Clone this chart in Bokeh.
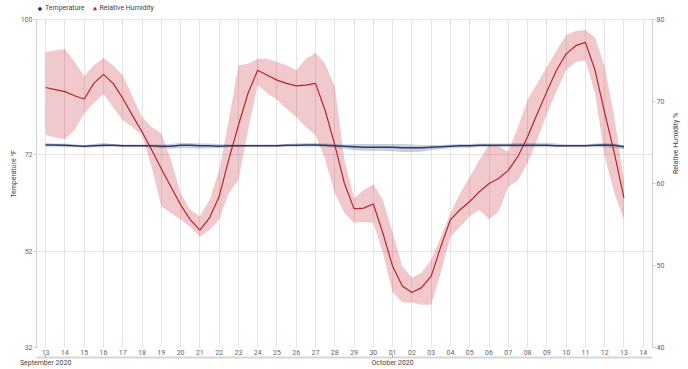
import math
import pandas as pd
from datetime import datetime
from bokeh.plotting import figure
from bokeh.models import (Range1d, LinearAxis, DatetimeAxis, FixedTicker, DaysTicker,
                          DatetimeTickFormatter, Legend, LegendItem, BoxAnnotation)
from bokeh.embed import file_html
from bokeh.resources import INLINE

# ---- data (12-hourly readings, Sep 13 2020 -> Oct 13 2020) ----
times = pd.date_range("2020-09-13", "2020-10-13", freq="12h")

humidity = [71.7, 71.45, 71.2, 70.7, 70.3, 72.2, 73.3, 72.2, 70.4, 68.3,
            66.3, 64.1, 61.8, 59.6, 57.4, 55.6, 54.3, 55.8, 58.4, 62.9,
            67.1, 71.0, 73.8, 73.2, 72.6, 72.2, 71.9, 72.0, 72.2, 68.9,
            64.7, 60.0, 56.9, 57.0, 57.5, 53.9, 49.9, 47.5, 46.7, 47.3,
            48.7, 52.3, 55.6, 56.8, 57.8, 59.0, 60.0, 60.6, 61.6, 63.3,
            65.7, 68.5, 71.2, 73.8, 75.8, 76.8, 77.2, 73.8, 68.6, 63.7,
            58.2]
humidity_hi = [76.0, 76.2, 76.4, 74.8, 73.1, 74.4, 75.3, 74.4, 73.2, 70.6,
               68.1, 66.9, 66.1, 62.9, 58.8, 56.8, 56.0, 58.0, 61.6, 67.7,
               74.4, 74.6, 75.2, 75.2, 74.8, 74.4, 73.8, 75.2, 75.9, 74.6,
               71.8, 62.9, 58.2, 59.2, 59.9, 58.0, 54.0, 49.9, 48.5, 49.1,
               50.7, 53.5, 56.4, 58.8, 60.8, 62.9, 64.7, 64.5, 63.9, 66.9,
               70.2, 72.2, 74.2, 76.2, 78.1, 78.6, 78.7, 77.8, 74.2, 68.1,
               60.4]
humidity_lo = [65.9, 65.6, 65.4, 66.5, 68.5, 69.8, 70.9, 69.3, 67.7, 66.9,
               65.9, 62.0, 57.2, 56.4, 55.6, 54.7, 53.5, 54.3, 55.6, 58.8,
               60.4, 66.5, 72.0, 71.0, 70.2, 69.1, 68.1, 66.9, 65.9, 62.9,
               58.8, 56.4, 55.2, 55.3, 55.2, 51.5, 46.7, 45.5, 45.5, 45.2,
               45.2, 49.1, 53.5, 54.7, 56.0, 56.8, 55.6, 56.6, 59.6, 60.4,
               62.5, 65.3, 68.5, 71.2, 73.8, 74.8, 75.0, 71.0, 63.3, 58.8,
               55.6]
temperature = [74.0, 74.0, 73.9, 73.8, 73.7, 73.8, 73.9, 73.9, 73.8, 73.8,
               73.8, 73.8, 73.7, 73.7, 73.9, 73.9, 73.8, 73.8, 73.7, 73.8,
               73.8, 73.8, 73.8, 73.8, 73.8, 73.9, 73.9, 74.0, 74.0, 73.9,
               73.8, 73.7, 73.6, 73.5, 73.5, 73.5, 73.5, 73.4, 73.4, 73.4,
               73.5, 73.6, 73.7, 73.8, 73.8, 73.9, 73.9, 73.9, 73.9, 73.9,
               73.9, 73.9, 73.9, 73.8, 73.8, 73.8, 73.8, 73.9, 74.0, 73.9,
               73.6]
temperature_hi = [74.4, 74.3, 74.3, 74.1, 74.0, 74.2, 74.4, 74.2, 74.1, 74.1,
                  74.1, 74.1, 74.1, 74.2, 74.4, 74.4, 74.3, 74.3, 74.2, 74.1,
                  74.1, 74.1, 74.1, 74.1, 74.1, 74.2, 74.3, 74.4, 74.4, 74.3,
                  74.2, 74.1, 74.2, 74.2, 74.2, 74.2, 74.2, 74.2, 74.1, 74.0,
                  74.0, 74.0, 74.1, 74.2, 74.2, 74.3, 74.3, 74.3, 74.3, 74.4,
                  74.4, 74.4, 74.4, 74.3, 74.1, 74.1, 74.1, 74.3, 74.4, 74.3,
                  73.9]
temperature_lo = [73.6, 73.6, 73.5, 73.5, 73.4, 73.5, 73.5, 73.6, 73.5, 73.5,
                  73.5, 73.5, 73.3, 73.2, 73.3, 73.3, 73.2, 73.3, 73.3, 73.5,
                  73.5, 73.5, 73.5, 73.5, 73.5, 73.6, 73.6, 73.6, 73.6, 73.5,
                  73.4, 73.2, 72.9, 72.8, 72.8, 72.8, 72.7, 72.5, 72.5, 72.6,
                  72.9, 73.1, 73.3, 73.4, 73.4, 73.5, 73.5, 73.5, 73.5, 73.5,
                  73.5, 73.5, 73.5, 73.5, 73.5, 73.5, 73.5, 73.5, 73.5, 73.3,
                  73.1]

temp_ticks = [32, 52, 72, 100]
rh_ticks = [40, 50, 60, 70, 80]
month_ticks = ["2020-09-13", "2020-10-01"]

NAVY = "#2b3a6e"
RED = "#b3262e"
FONT = "Roboto"
TXT = "#666666"
GRID = "#e4e4e4"

# The frame reaches the top of the canvas so the legend can sit above the
# value area; the visible scales run 32-100 °F and 40-80 %.
T_MIN, T_MAX = 32, 100
H_MIN, H_MAX = 40, 80
FRAME_H = 348
HEADROOM = 19  # px reserved above the value area for the legend
t_top = T_MAX + HEADROOM * (T_MAX - T_MIN) / (FRAME_H - HEADROOM)
h_top = H_MAX + HEADROOM * (H_MAX - H_MIN) / (FRAME_H - HEADROOM)

p = figure(width=688, height=369, x_axis_type="datetime",
           output_backend="svg", toolbar_location=None,
           x_range=Range1d(datetime(2020, 9, 12, 12, 40), datetime(2020, 10, 14, 11, 30)),
           y_range=Range1d(T_MIN, t_top), min_border=0,
           min_border_top=0, min_border_left=36, min_border_right=36,
           min_border_bottom=21)
p.extra_y_ranges = {"rh": Range1d(H_MIN, h_top)}
p.outline_line_color = None
p.background_fill_color = "white"
p.border_fill_color = "white"

# grid: vertical daily lines + horizontal lines at temperature ticks
xa = p.xaxis[0]
day_ticker = DaysTicker(days=list(range(1, 32)))
xa.ticker = day_ticker
p.xgrid.ticker = day_ticker
p.xgrid.grid_line_color = GRID
ya = p.yaxis[0]
ya.ticker = FixedTicker(ticks=temp_ticks)
p.ygrid.ticker = ya.ticker
p.ygrid.grid_line_color = GRID
p.ygrid.grid_line_width = 1

# hide grid lines in the legend strip above the value area
p.add_layout(BoxAnnotation(bottom=T_MAX + 0.12, fill_color="white", fill_alpha=1,
                           line_color=None, level="underlay"))

# bands
p.varea(x=times, y1=humidity_lo, y2=humidity_hi, y_range_name="rh",
        fill_color="#c82832", fill_alpha=0.25)
p.varea(x=times, y1=temperature_lo, y2=temperature_hi,
        fill_color="#2c3e73", fill_alpha=0.25)
# lines
p.line(x=times, y=humidity, y_range_name="rh", line_color=RED, line_width=1.2)
p.line(x=times, y=temperature, line_color=NAVY, line_width=1.5)

# legend (marker swatches)
r_t = p.scatter(x=[times[0]], y=[-100], marker="circle", size=6,
                fill_color=NAVY, line_color=NAVY)
r_h = p.scatter(x=[times[0]], y=[-100], marker="triangle", size=6,
                fill_color=RED, line_color=RED)
legend = Legend(items=[LegendItem(label="Temperature", renderers=[r_t]),
                       LegendItem(label="Relative Humidity", renderers=[r_h])],
                orientation="horizontal", location=(0, 335),
                label_text_font_size="7px", label_text_font=FONT,
                label_text_color="#444444",
                glyph_width=7, glyph_height=7, label_height=7,
                label_standoff=2, spacing=6, padding=2, margin=0,
                border_line_color=None, background_fill_alpha=0)
p.add_layout(legend)

# left axis
ya.axis_label = "Temperature °F"
ya.bounds = (T_MIN, T_MAX)

# right axis
ra = LinearAxis(y_range_name="rh", ticker=FixedTicker(ticks=rh_ticks),
                axis_label="Relative Humidity %", bounds=(H_MIN, H_MAX))
p.add_layout(ra, "right")

for ax in (ya, ra):
    ax.axis_label_text_font_size = "7px"
    ax.axis_label_text_font = FONT
    ax.axis_label_text_font_style = "normal"
    ax.axis_label_text_color = "#444444"
    ax.axis_label_standoff = 0
    ax.major_label_text_font_size = "7px"
    ax.major_label_text_font = FONT
    ax.major_label_text_color = TXT
    ax.major_label_standoff = 1
    ax.axis_line_color = "#cccccc"
    ax.major_tick_line_color = "#cccccc"
    ax.major_tick_out = 3
    ax.major_tick_in = 0
    ax.minor_tick_line_color = None
ra.axis_label_orientation = math.pi / 2
ra.axis_label_standoff = 9

# day axis
fmt_day = "%d"
xa.formatter = DatetimeTickFormatter(days=fmt_day, months=fmt_day, hours=fmt_day)
xa.axis_line_color = None
xa.major_tick_line_color = None
xa.major_tick_out = 0
xa.major_tick_in = 0
xa.minor_tick_line_color = None
xa.major_label_text_font_size = "7px"
xa.major_label_text_font = FONT
xa.major_label_text_color = TXT
xa.major_label_standoff = 2

# month axis
fmt_m = "%B %Y"
ma = DatetimeAxis(ticker=FixedTicker(ticks=[pd.Timestamp(t).value / 1e6 for t in month_ticks]),
                  formatter=DatetimeTickFormatter(days=fmt_m, months=fmt_m, hours=fmt_m,
                                                  years=fmt_m))
ma.axis_line_color = "#d6d6d6"
ma.axis_line_width = 2
ma.major_tick_line_color = "#aaaaaa"
ma.major_tick_in = 3
ma.major_tick_out = 0
ma.minor_tick_line_color = None
ma.major_label_text_font_size = "7px"
ma.major_label_text_font = FONT
ma.major_label_text_color = "#444444"
ma.major_label_standoff = 1
p.add_layout(ma, "below")

open("out.html", "w").write(file_html(p, INLINE))
